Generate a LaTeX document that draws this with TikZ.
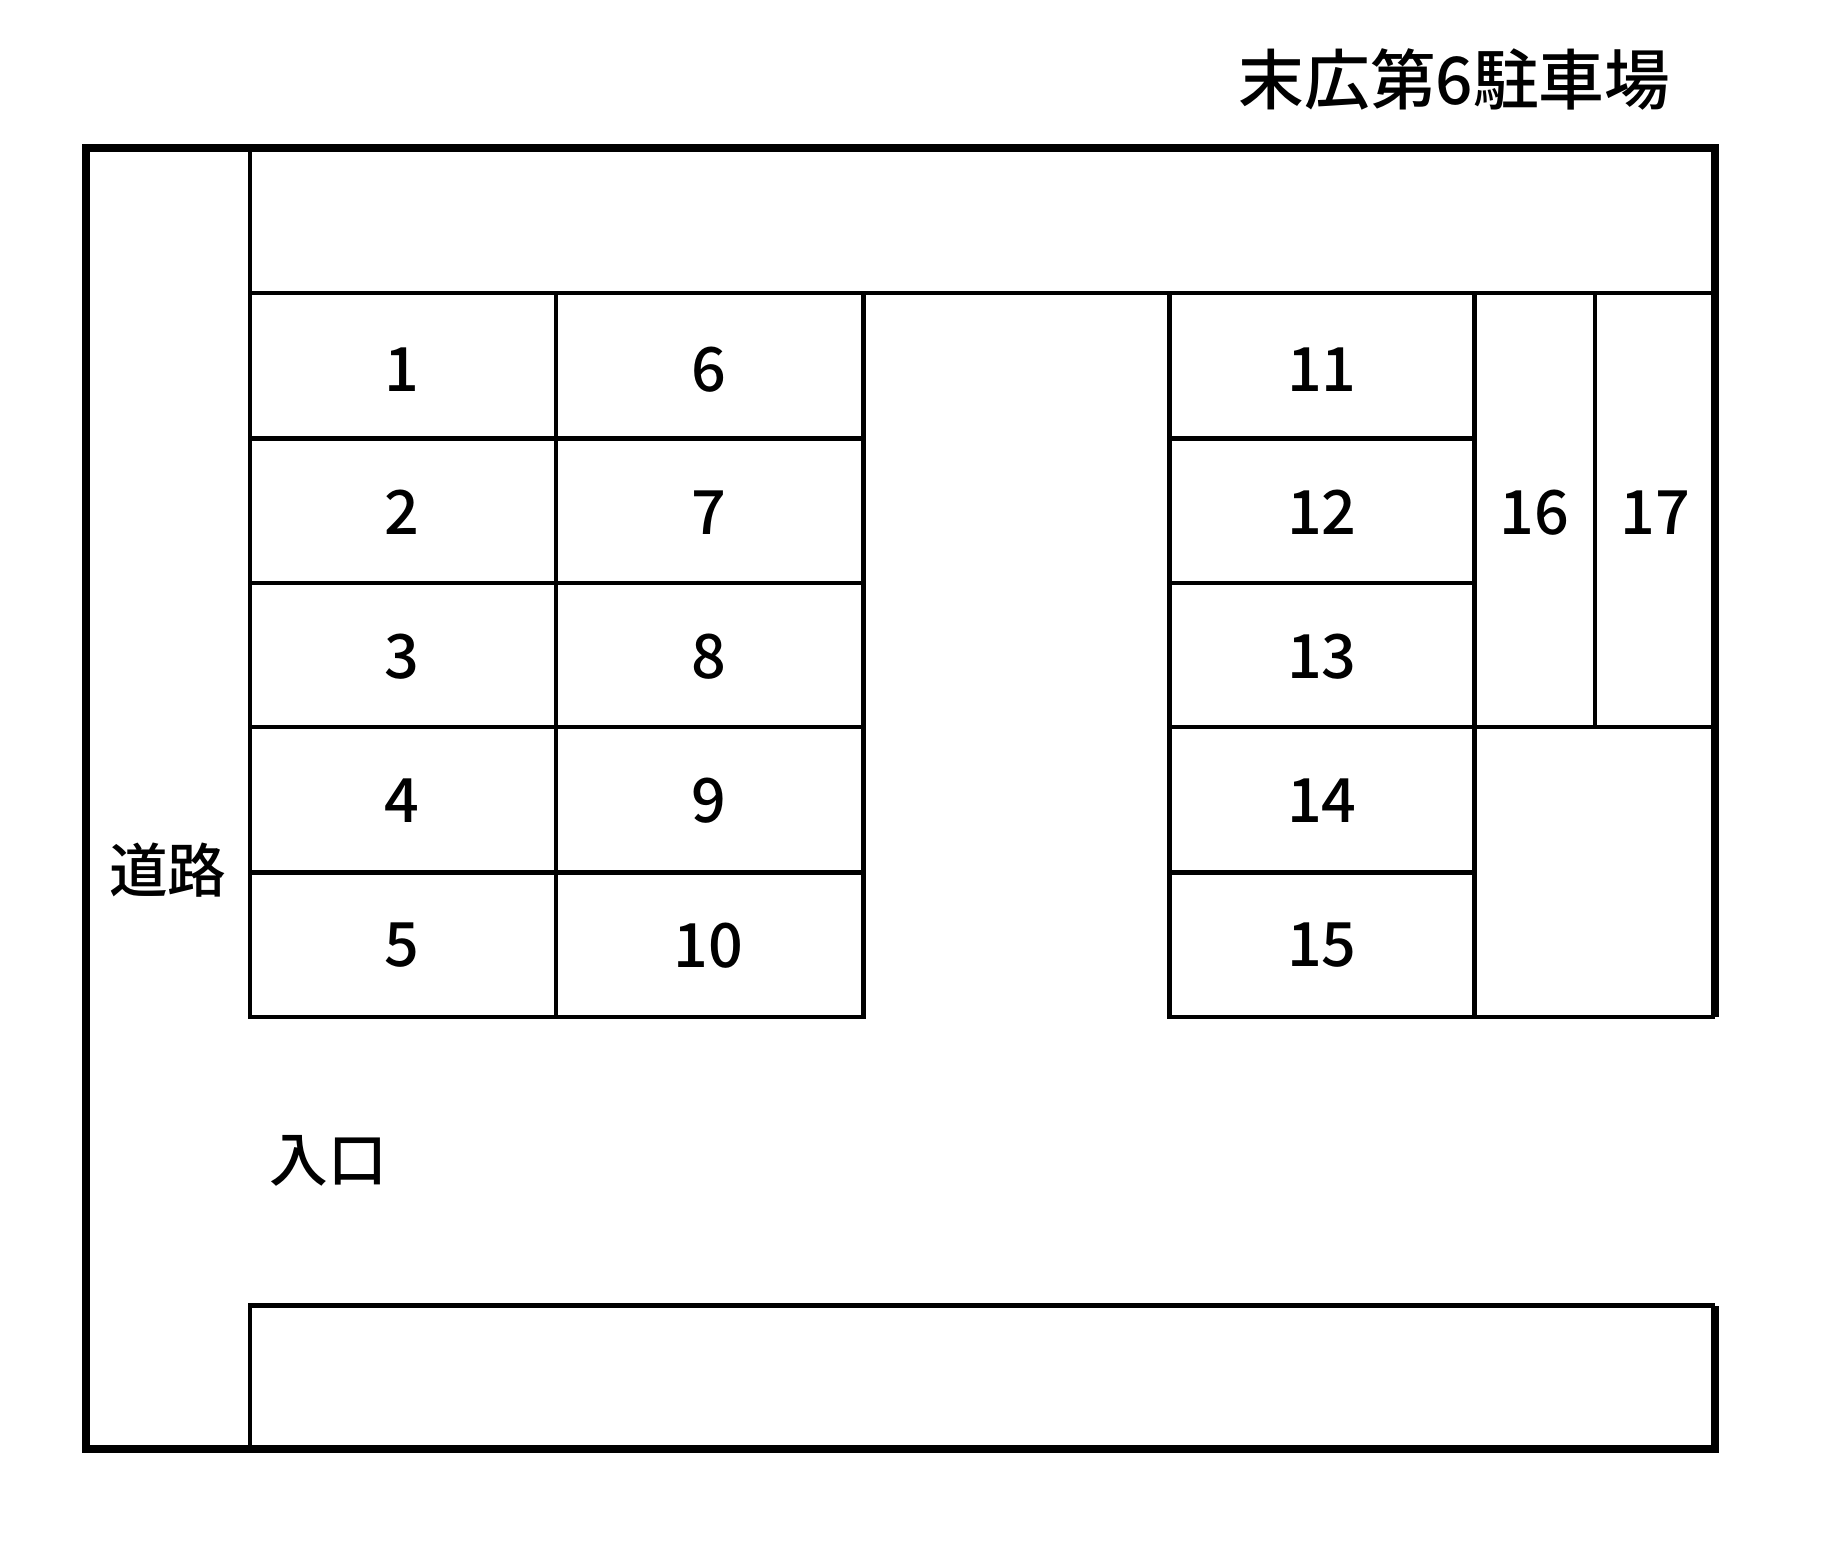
\documentclass[tikz,border=0pt]{standalone}
\usepackage{fontspec}
\setmainfont{Noto Sans CJK JP}
\newfontfamily\medfont{Noto Sans CJK JP Medium}
\begin{document}
\begin{tikzpicture}[x=0.5pt,y=-0.5pt,
  thick line/.style={line width=3.4pt},
  thin line/.style={line width=1.9pt},
  num/.style={font=\medfont\fontsize{26}{26}\selectfont, inner sep=0pt},
  lbl/.style={font=\medfont\fontsize{25}{25}\selectfont, inner sep=0pt}]
\useasboundingbox (0,0) rectangle (1567,1313);
% outer
\draw[thick line] (1462,867) -- (1462,126) -- (73,126) -- (73,1235) -- (1462,1235) -- (1462,1113);
% top strip
\draw[thin line] (213,126) -- (213,250) -- (1462,250);
% left grid
\foreach \y in {374,497,620,744} \draw[thin line] (213,\y) -- (736,\y);
\draw[thin line] (213,250) -- (213,867) -- (736,867) -- (736,250);
\draw[thin line] (474,250) -- (474,867);
% right grid
\foreach \y in {374,497,620,744} \draw[thin line] (997,\y) -- (1257,\y);
\draw[thin line] (997,250) -- (997,867) -- (1462,867);
\draw[thin line] (1257,250) -- (1257,867);
\draw[thin line] (1360,250) -- (1360,620);
\draw[thin line] (1257,620) -- (1462,620);
% bottom strip
\draw[thin line] (213,1235) -- (213,1113) -- (1462,1113);
% numbers
\foreach \n/\x/\y in {1/343/315,2/343/437,3/343/560,4/343/683,5/343/806,
  6/604/315,7/604/437,8/604/560,9/604/683,10/604/806,
  11/1127/315,12/1127/437,13/1127/560,14/1127/683,15/1127/806,
  16/1308/437,17/1411/437}
  \node[num] (s\n) at (\x,\y) {\n};
\node[lbl, font=\medfont\fontsize{28}{28}\selectfont] (title) at (1240,68) {末広第6駐車場};
\node[lbl] (road) at (143,742) {道路};
\node[lbl] (entry) at (280,990) {入口};
\end{tikzpicture}
\end{document}
